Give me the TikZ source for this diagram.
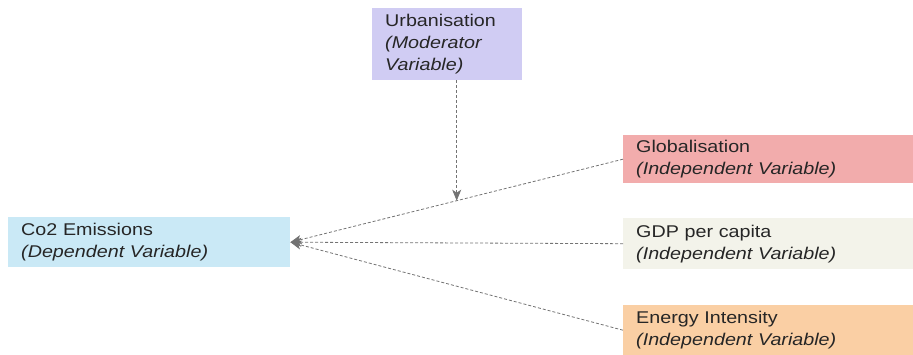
\documentclass[tikz,border=0pt]{standalone}
\usepackage{fontspec}
\setmainfont[FakeStretch=1.16]{Liberation Sans}
\usetikzlibrary{arrows,arrows.meta,positioning,shapes,calc}
\definecolor{urbcol}{RGB}{208,204,243}
\definecolor{globcol}{RGB}{242,172,172}
\definecolor{gdpcol}{RGB}{243,243,234}
\definecolor{enercol}{RGB}{250,207,164}
\definecolor{co2col}{RGB}{202,233,246}
\begin{document}
\begin{tikzpicture}[x=1pt, y=-1pt, >={Stealth[length=11pt,width=9pt,inset=3pt]}, var node/.style={rectangle,anchor=north west,align=left,inner xsep=13pt,inner ysep=0pt,font=\fontsize{17}{22}\selectfont,text=black!85},link/.style={densely dashed,black!55,line width=0.8pt}]%
\useasboundingbox (0,0) rectangle (913,355);
\begin{scope}
\node[var node, fill=urbcol, minimum width=150pt, minimum height=72pt, text width=124pt] (urb) at (372,8) {Urbanisation\\\textit{(Moderator}\\\textit{Variable)}};
\node[var node, fill=globcol, minimum width=290pt, minimum height=48pt, text width=264pt] (glob) at (623,135) {Globalisation\\\textit{(Independent Variable)}};
\node[var node, fill=gdpcol, minimum width=290pt, minimum height=51pt, text width=264pt] (gdp) at (623,218) {GDP per capita\\\textit{(Independent Variable)}};
\node[var node, fill=enercol, minimum width=290pt, minimum height=50pt, text width=264pt] (ener) at (623,305) {Energy Intensity\\\textit{(Independent Variable)}};
\node[var node, fill=co2col, minimum width=282pt, minimum height=50pt, text width=256pt] (co2) at (8,217) {Co2 Emissions\\\textit{(Dependent Variable)}};
\end{scope}
\coordinate (meet) at ($(glob.west)!0.5!(co2.east)$);
\begin{scope}[link]
\draw[->] (glob.west) -- (co2.east);
\draw[->] (gdp.west) -- (co2.east);
\draw[->] (ener.west) -- (co2.east);
\draw[->] (urb.south -| meet) -- (meet);
\end{scope}
\end{tikzpicture}
\end{document}
